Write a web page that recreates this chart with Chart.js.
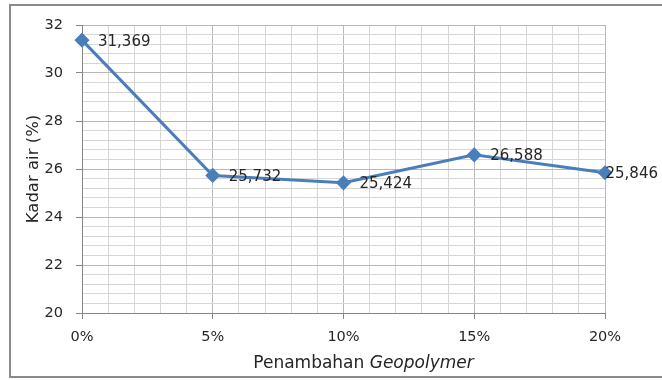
<!DOCTYPE html>
<html>
<head>
<meta charset="utf-8">
<script src="https://cdn.jsdelivr.net/npm/chart.js@4/dist/chart.umd.min.js"></script>
<style>
  html, body { margin: 0; padding: 0; background: #ffffff; overflow: hidden; }
  #wrap { position: relative; width: 662px; height: 380px; }
</style>
</head>
<body>
<div id="wrap"><canvas id="chart" width="662" height="380"></canvas></div>
<script>
// Geopolymer addition (%) and measured water content (%)
const categories = ['0%', '5%', '10%', '15%', '20%'];
const additions = [0, 5, 10, 15, 20];
const kadarAir = [31.369, 25.732, 25.424, 26.588, 25.846];
const yTickLabels = ['20', '22', '24', '26', '28', '30', '32'];

const FONT = "'DejaVu Sans', sans-serif";
const TEXT = '#262626';
const BLUE = '#4a7ebb';

const isMajorX = v => additions.includes(Math.round(v)) && Math.abs(v - Math.round(v)) < 1e-6;
const yLabelFor = v => {
  const hit = yTickLabels.find(t => Math.abs(parseFloat(t) - v) < 1e-6);
  return hit === undefined ? '' : hit;
};

// Outer frame of the chart box (left, top and bottom edges)
const framePlugin = {
  id: 'frame',
  beforeDraw(chart) {
    const ctx = chart.ctx;
    ctx.save();
    ctx.fillStyle = '#ffffff';
    ctx.fillRect(0, 0, chart.width, chart.height);
    ctx.strokeStyle = '#8a8a8a';
    ctx.lineWidth = 2;
    ctx.beginPath();
    ctx.moveTo(chart.width + 5, 5);
    ctx.lineTo(10, 5);
    ctx.lineTo(10, 377);
    ctx.lineTo(chart.width + 5, 377);
    ctx.stroke();
    ctx.restore();
  }
};

// Value labels to the right of each point, decimal comma
const valueLabels = {
  id: 'valueLabels',
  afterDatasetsDraw(chart) {
    const ctx = chart.ctx;
    const meta = chart.getDatasetMeta(0);
    ctx.save();
    ctx.font = '15px ' + FONT;
    ctx.fillStyle = TEXT;
    ctx.textBaseline = 'middle';
    ctx.textAlign = 'left';
    meta.data.forEach((pt, i) => {
      const txt = kadarAir[i].toFixed(3).replace('.', ',');
      const w = ctx.measureText(txt).width;
      const x = Math.min(pt.x + 16, chart.width - 4 - w);
      ctx.fillText(txt, x, pt.y + 1.5);
    });
    ctx.restore();
  }
};

// Axis title under the x axis, with the italic term
const xTitle = {
  id: 'xTitle',
  afterDraw(chart) {
    const ctx = chart.ctx;
    const a = chart.chartArea;
    const part1 = 'Penambahan ';
    const part2 = 'Geopolymer';
    ctx.save();
    ctx.fillStyle = TEXT;
    ctx.textBaseline = 'alphabetic';
    ctx.font = '17px ' + FONT;
    const w1 = ctx.measureText(part1).width;
    ctx.font = 'italic 17px ' + FONT;
    const w2 = ctx.measureText(part2).width;
    const cx = (a.left + a.right) / 2 + 20;
    const x0 = cx - (w1 + w2) / 2;
    const y = 368;
    ctx.font = '17px ' + FONT;
    ctx.fillText(part1, x0, y);
    ctx.font = 'italic 17px ' + FONT;
    ctx.fillText(part2, x0 + w1, y);
    ctx.restore();
  }
};

new Chart(document.getElementById('chart'), {
  type: 'line',
  data: {
    datasets: [{
      label: 'Kadar air',
      data: additions.map((x, i) => ({ x, y: kadarAir[i] })),
      borderColor: BLUE,
      backgroundColor: BLUE,
      borderWidth: 3,
      pointStyle: 'rectRot',
      pointRadius: 6.5,
      pointHoverRadius: 6.5,
      pointBorderWidth: 1.5,
      pointBackgroundColor: BLUE,
      pointBorderColor: BLUE,
      tension: 0,
      fill: false,
      clip: false
    }]
  },
  options: {
    responsive: false,
    animation: false,
    devicePixelRatio: 1,
    layout: { padding: { left: 0, top: 25, right: 57, bottom: 0 } },
    plugins: {
      legend: { display: false },
      tooltip: { enabled: false },
      title: { display: false }
    },
    scales: {
      x: {
        type: 'linear',
        min: 0,
        max: 20,
        afterFit(scale) { scale.height = 67; },
        ticks: {
          stepSize: 1,
          autoSkip: false,
          maxRotation: 0,
          padding: 10,
          color: TEXT,
          font: { family: FONT, size: 14.5 },
          callback: v => {
            const idx = additions.findIndex(a => Math.abs(a - v) < 1e-6);
            return idx === -1 ? '' : categories[idx];
          }
        },
        grid: {
          color: c => isMajorX(c.tick.value) ? '#b8b8b8' : '#d6d6d6',
          lineWidth: 1,
          tickLength: 6,
          tickColor: c => isMajorX(c.tick.value) ? '#868686' : 'rgba(0,0,0,0)'
        },
        border: { color: '#868686', width: 1 }
      },
      y: {
        type: 'linear',
        min: 20,
        max: 32,
        afterFit(scale) { scale.width = 82; },
        ticks: {
          stepSize: 0.4,
          autoSkip: false,
          padding: 13,
          color: TEXT,
          font: { family: FONT, size: 14.5 },
          callback: v => yLabelFor(v)
        },
        grid: {
          color: c => yLabelFor(c.tick.value) !== '' ? '#b8b8b8' : '#d6d6d6',
          lineWidth: 1,
          tickLength: 6,
          tickColor: c => yLabelFor(c.tick.value) !== '' ? '#868686' : 'rgba(0,0,0,0)'
        },
        border: { color: '#868686', width: 1 },
        title: {
          display: true,
          text: 'Kadar air (%)',
          color: TEXT,
          font: { family: FONT, size: 16.5 },
          padding: { top: 24, bottom: 0 }
        }
      }
    }
  },
  plugins: [framePlugin, valueLabels, xTitle]
});
</script>
</body>
</html>
